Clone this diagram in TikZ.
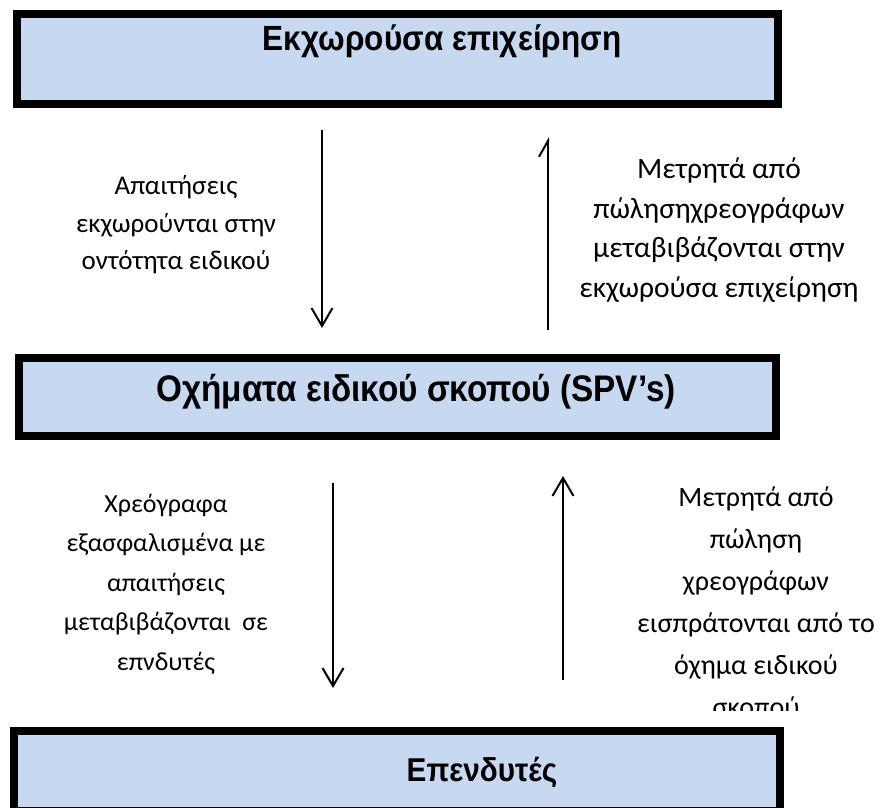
\documentclass[tikz,border=0pt]{standalone}
\usepackage{fontspec}
\setmainfont{Carlito}
\newfontfamily\titlefont[FakeStretch=0.9]{Liberation Sans}
\usetikzlibrary{arrows.meta}
\definecolor{boxblue}{HTML}{C6D9F1}
\tikzset{
  boxnode/.style={draw=black, line width=8pt, fill=boxblue, inner sep=0pt},
  titletext/.style={font=\titlefont\bfseries\fontsize{35}{40}\selectfont, inner sep=0pt},
  labeltext/.style={align=center, inner sep=0pt},
  flowarrow/.style={line width=2pt, -{Straight Barb[length=18pt,width=21pt,line width=2pt]}},
  thinarrow/.style={line width=1.3pt, -{Straight Barb[left,length=16pt,width=18pt,line width=2pt]}}
}
\begin{document}
\begin{tikzpicture}[x=1pt,y=-1pt]
\useasboundingbox (0,0) rectangle (886,808);
% boxes
\node[boxnode, minimum width=761pt, minimum height=90pt] (b1) at (397.5,59) {};
\node[titletext] (t1) at (442,41) {Εκχωρούσα επιχείρηση};
\node[boxnode, minimum width=757pt, minimum height=78pt] (b2) at (397.5,397) {};
\node[titletext, font=\titlefont\bfseries\fontsize{37}{42}\selectfont] (t2) at (416,392) {Οχήματα ειδικού σκοπού (SPV’s)};
% coordinates for arrows
\coordinate (a1s) at (322,130);
\coordinate (a1e) at (322,328);
\coordinate (a2s) at (548,330);
\coordinate (a2e) at (548,137);
\coordinate (a3s) at (333,483);
\coordinate (a3e) at (333,688);
\coordinate (a4s) at (563,680);
\coordinate (a4e) at (563,476);
\draw[flowarrow] (a1s) -- (a1e);
\draw[thinarrow] (a2s) -- (a2e);
\draw[flowarrow] (a3s) -- (a3e);
\draw[flowarrow] (a4s) -- (a4e);
% labels
\node[labeltext, font=\fontsize{27}{37.5}\selectfont] (l1) at (176,225) {Απαιτήσεις\\εκχωρούνται στην\\οντότητα ειδικού};
\node[labeltext, font=\fontsize{29.5}{39.5}\selectfont] (l2) at (719,230) {Μετρητά από\\πώλησηχρεογράφων\\μεταβιβάζονται στην\\εκχωρούσα επιχείρηση};
\node[labeltext, font=\fontsize{26}{39.5}\selectfont] (l3) at (166,584) {Χρεόγραφα\\εξασφαλισμένα με\\απαιτήσεις\\μεταβιβάζονται\ \ σε\\επνδυτές};
\begin{scope}
\clip (560,470) rectangle (886,710);
\node[labeltext, font=\fontsize{28}{42}\selectfont] (l4) at (756,602) {Μετρητά από\\πώληση\\χρεογράφων\\εισπράτονται από το\\όχημα ειδικού\\σκοπού};
\end{scope}
\node[boxnode, minimum width=766pt, minimum height=80pt] (b3) at (397,771) {};
\node[titletext, font=\titlefont\bfseries\fontsize{33}{38}\selectfont] (t3) at (482,773) {Επενδυτές};
\end{tikzpicture}
\end{document}
